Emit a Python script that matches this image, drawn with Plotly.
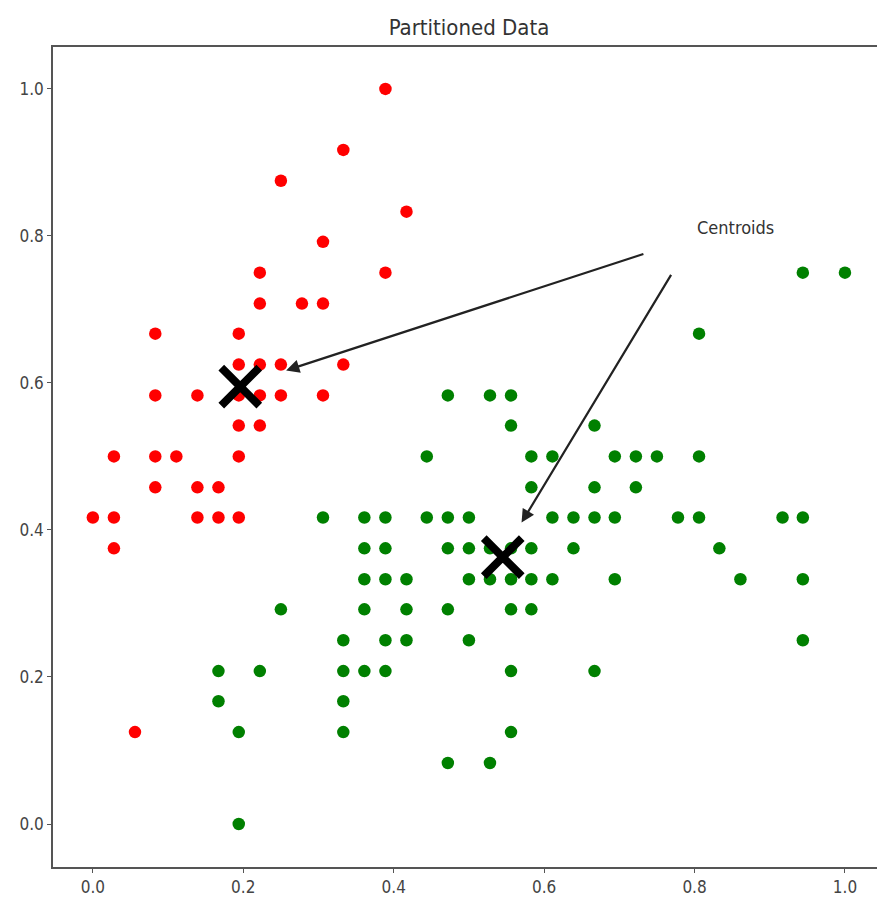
import plotly.graph_objects as go

# Cluster 1 (red) points
red_x = [0.222, 0.167, 0.111, 0.083, 0.194, 0.306, 0.083, 0.194, 0.028, 0.167, 0.306, 0.139,
         0.139, 0.000, 0.417, 0.389, 0.389, 0.222, 0.306, 0.222, 0.083, 0.222, 0.194, 0.250,
         0.250, 0.139, 0.250, 0.333, 0.194, 0.333, 0.028, 0.222, 0.194, 0.056, 0.028, 0.083,
         0.278, 0.194]
red_y = [0.625, 0.417, 0.500, 0.458, 0.667, 0.792, 0.583, 0.583, 0.375, 0.458, 0.708, 0.583,
         0.417, 0.417, 0.833, 1.000, 0.750, 0.750, 0.583, 0.708, 0.667, 0.542, 0.417, 0.625,
         0.583, 0.458, 0.875, 0.917, 0.500, 0.625, 0.417, 0.583, 0.625, 0.125, 0.500, 0.500,
         0.708, 0.542]

# Cluster 2 (green) points
green_x = [0.167, 0.167, 0.194, 0.194, 0.222, 0.250, 0.306,
           0.333, 0.333, 0.333, 0.333,
           0.361, 0.361, 0.361, 0.361, 0.361,
           0.389, 0.389, 0.389, 0.389, 0.389,
           0.417, 0.417, 0.417,
           0.444, 0.444,
           0.472, 0.472, 0.472, 0.472, 0.472,
           0.500, 0.500, 0.500, 0.500,
           0.528, 0.528, 0.528, 0.528,
           0.556, 0.556, 0.556, 0.556, 0.556, 0.556, 0.556,
           0.583, 0.583, 0.583, 0.583, 0.583,
           0.611, 0.611, 0.611,
           0.639, 0.639,
           0.667, 0.667, 0.667, 0.667,
           0.694, 0.694, 0.694,
           0.722, 0.722,
           0.750, 0.778,
           0.806, 0.806, 0.806,
           0.833, 0.861, 0.917,
           0.944, 0.944, 0.944, 0.944,
           1.000]
green_y = [0.167, 0.208, 0.000, 0.125, 0.208, 0.292, 0.417,
           0.125, 0.167, 0.208, 0.250,
           0.375, 0.417, 0.208, 0.292, 0.333,
           0.333, 0.250, 0.417, 0.375, 0.208,
           0.292, 0.250, 0.333,
           0.417, 0.500,
           0.083, 0.375, 0.292, 0.583, 0.417,
           0.375, 0.333, 0.417, 0.250,
           0.083, 0.375, 0.333, 0.583,
           0.542, 0.208, 0.125, 0.375, 0.292, 0.333, 0.583,
           0.500, 0.375, 0.292, 0.333, 0.458,
           0.333, 0.417, 0.500,
           0.375, 0.417,
           0.458, 0.417, 0.208, 0.542,
           0.333, 0.417, 0.500,
           0.458, 0.500,
           0.500, 0.417,
           0.667, 0.500, 0.417,
           0.375, 0.333, 0.417,
           0.750, 0.250, 0.333, 0.417,
           0.750]

# Centroids
cent_x = [0.196, 0.545]
cent_y = [0.595, 0.363]

# Annotation
label_text = "Centroids"
label_pos = (0.80, 0.811)
arrow_tails = [(0.734, 0.776), (0.770, 0.749)]
arrow_heads = [(0.257, 0.617), (0.570, 0.410)]

tick_vals = [0.0, 0.2, 0.4, 0.6, 0.8, 1.0]
tick_text = ["0.0", "0.2", "0.4", "0.6", "0.8", "1.0"]

FONT = "DejaVu Sans Condensed, DejaVu Sans, sans-serif"

fig = go.Figure()
fig.add_trace(go.Scatter(x=red_x, y=red_y, mode="markers",
                         marker=dict(color="#ff0000", size=12.5, line=dict(width=0)),
                         showlegend=False))
fig.add_trace(go.Scatter(x=green_x, y=green_y, mode="markers",
                         marker=dict(color="#008000", size=12.5, line=dict(width=0)),
                         showlegend=False))
fig.add_trace(go.Scatter(x=cent_x, y=cent_y, mode="markers",
                         marker=dict(symbol="x-thin", size=38, color="black",
                                     line=dict(width=8, color="black")),
                         showlegend=False))

fig.add_annotation(x=label_pos[0], y=label_pos[1], xref="x", yref="y", text=label_text,
                   showarrow=False, xanchor="left", yanchor="middle",
                   font=dict(family=FONT, size=18, color="#333333"))
for (tx, ty), (hx, hy) in zip(arrow_tails, arrow_heads):
    fig.add_annotation(x=hx, y=hy, ax=tx, ay=ty, xref="x", yref="y", axref="x", ayref="y",
                       text="", showarrow=True, arrowhead=2, arrowsize=1.2, arrowwidth=2.2,
                       arrowcolor="#222222")

axis_common = dict(showgrid=False, zeroline=False, showline=True, linecolor="#555555",
                   linewidth=1.5, ticks="outside", ticklen=4, tickwidth=1.2, tickcolor="#555555",
                   tickfont=dict(family=FONT, size=17, color="#444444"),
                   tickvals=tick_vals, ticktext=tick_text, automargin=False)

fig.update_layout(
    width=877, height=907,
    margin=dict(l=53, r=0, t=47, b=40),
    plot_bgcolor="white", paper_bgcolor="white",
    title=dict(text="Partitioned Data", x=469 / 877, xanchor="center", y=1 - 27 / 907,
               yanchor="middle", font=dict(family=FONT, size=22, color="#333333")),
    xaxis=dict(range=[-0.053, 1.0426], mirror=True, **axis_common),
    yaxis=dict(range=[-0.0585, 1.057], **axis_common),
)

fig.write_html("out.html", config={"displayModeBar": False},
               post_script="document.body.style.margin='0';document.body.style.overflow='hidden';")
